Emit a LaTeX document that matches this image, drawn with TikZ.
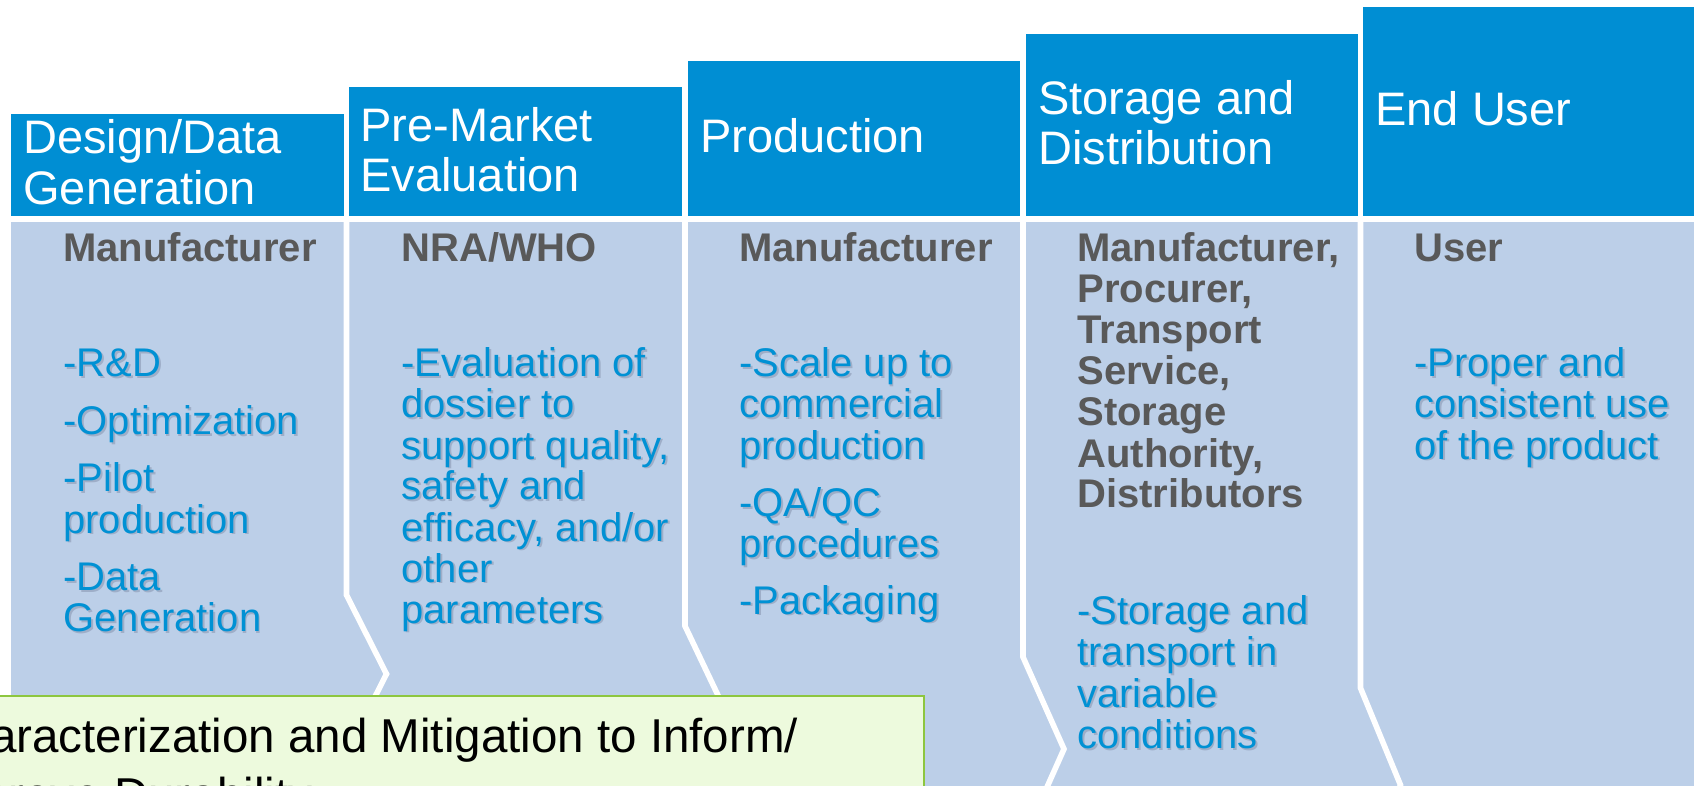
\documentclass[tikz,border=0pt]{standalone}
\usepackage{fontspec}
\setmainfont{Liberation Sans}
\definecolor{hdrblue}{RGB}{0,142,211}
\definecolor{bodyblue}{RGB}{188,207,232}
\definecolor{txtblue}{RGB}{0,145,212}
\definecolor{txtgray}{RGB}{89,89,89}
\definecolor{shadowc}{RGB}{158,174,200}
\definecolor{notefill}{RGB}{237,250,221}
\definecolor{noteline}{RGB}{141,198,63}
\newcommand\shd[1]{\makebox[0pt][l]{\kern0.9pt\raisebox{-0.9pt}{\textcolor{shadowc}{#1}}}#1}
\begin{document}
\begin{tikzpicture}[x=0.5pt,y=-0.5pt,
  hdr/.style={fill=hdrblue},
  body/.style={fill=bodyblue},
  hdrtxt/.style={anchor=base west, inner sep=0pt, text=white, font=\fontsize{23.5}{25}\selectfont},
  who/.style={anchor=base west, inner sep=0pt, text=txtgray, font=\fontsize{20}{20.5}\selectfont\bfseries},
  item/.style={anchor=base west, inner sep=0pt, text=txtblue, font=\fontsize{20}{20.5}\selectfont},
  sep/.style={draw=white, line width=2.8pt, line join=miter},
  note/.style={fill=notefill, draw=noteline, line width=1pt},
  notetxt/.style={anchor=base west, inner sep=0pt, text=black, font=\fontsize{23.75}{29}\selectfont}]
\useasboundingbox (0,0) rectangle (1694,786);
\clip (0,0) rectangle (1694,786);
\fill[white] (0,0) rectangle (1694,786);

% header boxes
\path[hdr] (11,114) rectangle (344,216);
\path[hdr] (349,87) rectangle (682,216);
\path[hdr] (688,61) rectangle (1020,216);
\path[hdr] (1026,34) rectangle (1358,216);
\path[hdr] (1363,7) rectangle (1700,216);

% body
\path[body] (11,222) rectangle (1700,800);
\draw[sep] (346.5,218) -- (346.5,595) -- (386.5,674) -- (346.5,753) -- (346.5,800);
\draw[sep] (685,218) -- (685,626) -- (725,710) -- (685,794) -- (685,800);
\draw[sep] (1023,218) -- (1023,657) -- (1064,749) -- (1023,841);
\draw[sep] (1360.5,218) -- (1360.5,688) -- (1400.5,785) -- (1360.5,882);

% header texts
\node[hdrtxt] (h1a) at (23,154) {Design/Data};
\node[hdrtxt] (h1b) at (23,205) {Generation};
\node[hdrtxt] (h2a) at (360,141.5) {Pre-Market};
\node[hdrtxt] (h2b) at (360,191.5) {Evaluation};
\node[hdrtxt] (h3a) at (700,153) {Production};
\node[hdrtxt] (h4a) at (1038,115) {Storage and};
\node[hdrtxt] (h4b) at (1038,165) {Distribution};
\node[hdrtxt] (h5a) at (1375,126) {End User};

% column 1
\node[who] (c1w) at (63,262) {Manufacturer};
\foreach \yy/\tt [count=\i] in {377/{-R\&D}, 434.5/{-Optimization}, 492/{-Pilot}, 533/{production}, 590.5/{-Data}, 631.5/{Generation}}
  \node[item] (c1l\i) at (63,\yy) {\shd{\tt}};

% column 2
\node[who] (c2w) at (401,262) {NRA/WHO};
\foreach \yy/\tt [count=\i] in {377/{-Evaluation of}, 418/{dossier to}, 459/{support quality,}, 500/{safety and}, 541/{efficacy, and/or}, 582/{other}, 623/{parameters}}
  \node[item] (c2l\i) at (401,\yy) {\shd{\tt}};

% column 3
\node[who] (c3w) at (739,262) {Manufacturer};
\foreach \yy/\tt [count=\i] in {377/{-Scale up to}, 418/{commercial}, 459/{production}, 516.5/{-QA/QC}, 557.5/{procedures}, 614/{-Packaging}}
  \node[item] (c3l\i) at (739,\yy) {\shd{\tt}};

% column 4
\foreach \yy/\tt [count=\i] in {262/{Manufacturer,}, 303/{Procurer,}, 344/{Transport}, 385/{Service,}, 426/{Storage}, 467/{Authority,}, 508/{Distributors}}
  \node[who] (c4w\i) at (1077,\yy) {\tt};
\foreach \yy/\tt [count=\i] in {624/{-Storage and}, 665.5/{transport in}, 707/{variable}, 748.5/{conditions}}
  \node[item] (c4l\i) at (1077,\yy) {\shd{\tt}};

% column 5
\node[who] (c5w) at (1414,262) {User};
\foreach \yy/\tt [count=\i] in {377/{-Proper and}, 418/{consistent use}, 459/{of the product}}
  \node[item] (c5l\i) at (1414,\yy) {\shd{\tt}};

% note box
\path[note] (-40,696) rectangle (924,900);
\node[notetxt] (n1) at (-71,752) {Characterization and Mitigation to Inform/};
\node[notetxt] (n2) at (-71,811) {Improve Durability};
\end{tikzpicture}
\end{document}
